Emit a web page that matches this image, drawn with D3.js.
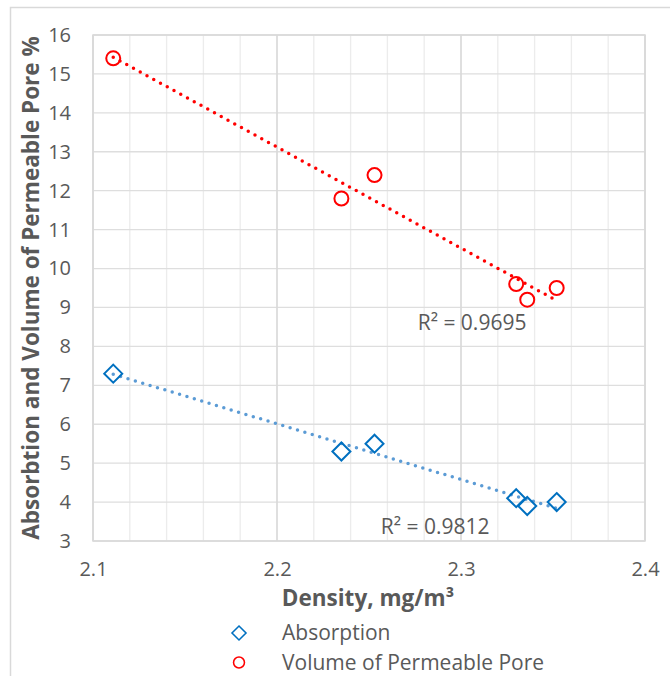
<!DOCTYPE html>
<html>
<head>
<meta charset="utf-8">
<style>
  body { margin: 0; background: #fff; }
  svg { display: block; font-family: "Open Sans", "Liberation Sans", sans-serif; }
</style>
</head>
<body>
<svg width="670" height="676"></svg>
<script src="https://d3js.org/d3.v7.min.js"></script>
<script>

// density, mg/m3
var density = [2.111, 2.235, 2.253, 2.330, 2.336, 2.352];
var absorption = [7.3, 5.3, 5.5, 4.1, 3.9, 4.0];
var vpp = [15.4, 11.8, 12.4, 9.6, 9.2, 9.5];
var seriesNames = ["Absorption", "Volume of Permeable Pore"];
var r2Labels = ["R\u00b2 = 0.9812", "R\u00b2 = 0.9695"];
var xTicks = [2.1, 2.2, 2.3, 2.4];

var svg = d3.select("svg"),
    margin = {top: 35, right: 25, bottom: 135, left: 93},
    width = 670 - margin.left - margin.right,
    height = 676 - margin.top - margin.bottom;

var textColor = "#595959",
    blue = "#0070c0",
    blueLine = "#5b9bd5",
    red = "#ff0000";

// outer frame (cut off at right and bottom)
svg.append("rect")
    .attr("x", 10.5).attr("y", 7.5)
    .attr("width", 700).attr("height", 700)
    .attr("fill", "none")
    .attr("stroke", "#d9d9d9")
    .attr("stroke-width", 1.5);

var x = d3.scaleLinear().domain([2.1, 2.4]).range([0, width]);
var y = d3.scaleLinear().domain([3, 16]).range([height, 0]);

var g = svg.append("g").attr("transform", "translate(" + margin.left + "," + margin.top + ")");

// minor vertical gridlines
g.append("g")
    .selectAll("line")
    .data(d3.range(0, 16).map(function(i) { return 2.1 + i * 0.02; }))
    .enter().append("line")
    .attr("x1", function(d) { return x(d); })
    .attr("x2", function(d) { return x(d); })
    .attr("y1", 0).attr("y2", height)
    .attr("stroke", "#ececec")
    .attr("stroke-width", 1.3);

// horizontal gridlines
g.append("g")
    .selectAll("line")
    .data(d3.range(3, 17))
    .enter().append("line")
    .attr("x1", 0).attr("x2", width)
    .attr("y1", function(d) { return y(d); })
    .attr("y2", function(d) { return y(d); })
    .attr("stroke", "#dedede")
    .attr("stroke-width", 1.3);

// major vertical gridlines
g.append("g")
    .selectAll("line")
    .data(xTicks)
    .enter().append("line")
    .attr("x1", function(d) { return x(d); })
    .attr("x2", function(d) { return x(d); })
    .attr("y1", 0).attr("y2", height)
    .attr("stroke", "#d9d9d9")
    .attr("stroke-width", 1.5);

g.append("rect")
    .attr("width", width).attr("height", height)
    .attr("fill", "none")
    .attr("stroke", "#d9d9d9")
    .attr("stroke-width", 1.5);

// axes
var xAxis = g.append("g")
    .attr("transform", "translate(0," + height + ")")
    .call(d3.axisBottom(x).tickValues(xTicks).tickSize(0).tickPadding(21).tickFormat(d3.format(".1f")));
var yAxis = g.append("g")
    .call(d3.axisLeft(y).ticks(13).tickSize(0).tickPadding(22).tickFormat(d3.format("d")));
[xAxis, yAxis].forEach(function(a) {
  a.select(".domain").remove();
  a.selectAll("text")
      .attr("fill", textColor)
      .style("font-size", "20px")
      .style("font-family", "'Open Sans', sans-serif");
});

// linear trend
function fit(xs, ys) {
  var mx = d3.mean(xs), my = d3.mean(ys), sxy = 0, sxx = 0;
  xs.forEach(function(v, i) { sxy += (v - mx) * (ys[i] - my); sxx += (v - mx) * (v - mx); });
  var b = sxy / sxx, a = my - b * mx;
  return function(v) { return a + b * v; };
}

var series = [
  {name: seriesNames[0], ys: absorption, marker: blue, line: blueLine, shape: "diamond", r2: r2Labels[0], lx: 2.286, ly: 3.38},
  {name: seriesNames[1], ys: vpp, marker: red, line: red, shape: "circle", r2: r2Labels[1], lx: 2.306, ly: 8.6}
];

series.forEach(function(s) {
  var f = fit(density, s.ys);
  var x0 = d3.min(density), x1 = d3.max(density);
  g.append("line")
      .attr("x1", x(x0)).attr("y1", y(f(x0)))
      .attr("x2", x(x1)).attr("y2", y(f(x1)))
      .attr("stroke", s.line)
      .attr("stroke-width", 3.5)
      .attr("stroke-linecap", "round")
      .attr("stroke-dasharray", "0,7.7");

  g.append("text")
      .attr("x", x(s.lx)).attr("y", y(s.ly))
      .attr("dy", "0.35em")
      .attr("text-anchor", "middle")
      .attr("fill", textColor)
      .style("font-size", "21px")
      .text(s.r2);
});

function drawMarker(sel, shape, color) {
  if (shape === "diamond") {
    sel.append("path")
        .attr("d", "M0,-9L9,0L0,9L-9,0Z")
        .attr("fill", "none")
        .attr("stroke", color)
        .attr("stroke-width", 2);
  } else {
    sel.append("circle")
        .attr("r", 7)
        .attr("fill", "none")
        .attr("stroke", color)
        .attr("stroke-width", 2);
  }
}

series.forEach(function(s) {
  density.forEach(function(d, i) {
    var m = g.append("g").attr("transform", "translate(" + x(d) + "," + y(s.ys[i]) + ")");
    drawMarker(m, s.shape, s.marker);
  });
});

// axis titles
svg.append("text")
    .attr("x", 368)
    .attr("y", 598)
    .attr("dy", "0.35em")
    .attr("text-anchor", "middle")
    .attr("fill", textColor)
    .style("font-size", "22.5px")
    .style("font-weight", "bold")
    .text("Density, mg/m\u00b3");

svg.append("text")
    .attr("transform", "translate(31," + (margin.top + height / 2) + ") rotate(-90)")
    .attr("dy", "0.35em")
    .attr("text-anchor", "middle")
    .attr("fill", textColor)
    .style("font-size", "22.5px")
    .style("font-weight", "bold")
    .text("Absorbtion and Volume of Permeable Pore %");

// legend
var legend = svg.append("g");
series.forEach(function(s, i) {
  var row = legend.append("g").attr("transform", "translate(239," + (633 + i * 29.5) + ")");
  var m = row.append("g").attr("transform", "scale(0.78)");
  drawMarker(m, s.shape, s.marker);
  row.append("text")
      .attr("x", 43)
      .attr("dy", "0.35em")
      .attr("fill", textColor)
      .style("font-size", "21px")
      .text(s.name);
});

</script>
</body>
</html>
